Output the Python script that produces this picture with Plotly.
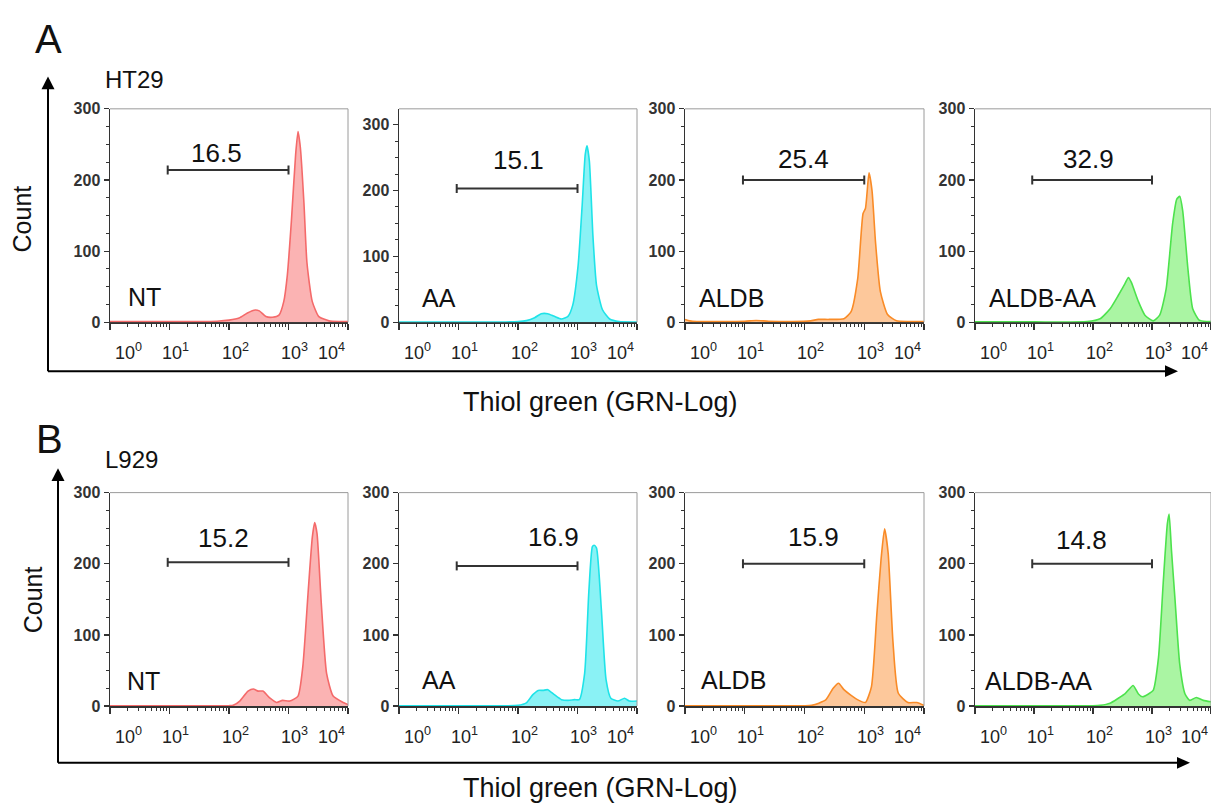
import math
import plotly.graph_objects as go

# ---------------- data (log10 fluorescence, cell count) ----------------
sample_names = ["NT", "AA", "ALDB", "ALDB-AA"]
row_titles = ["HT29", "L929"]
panel_letters = ["A", "B"]
x_tick_exponents = [0, 1, 2, 3, 4]
y_tick_values = [0, 100, 200, 300]

ht29_nt_x = [0, 0.5, 1.0, 1.5, 1.8, 2.0, 2.17, 2.31, 2.42, 2.51, 2.62, 2.73, 2.84, 2.92, 2.98, 3.05, 3.12, 3.16, 3.20, 3.26, 3.31, 3.40, 3.51, 3.68, 3.85, 4.0]
ht29_nt_y = [1, 1, 1, 1, 1.5, 3, 6, 13, 17, 16, 8, 7, 10, 29, 66, 144, 236, 268, 245, 167, 84, 29, 8, 2, 1, 1]

ht29_aa_x = [0, 1.0, 1.8, 2.0, 2.14, 2.28, 2.39, 2.50, 2.61, 2.73, 2.84, 2.92, 3.01, 3.08, 3.13, 3.16, 3.20, 3.26, 3.32, 3.42, 3.54, 3.70, 4.0]
ht29_aa_y = [0.5, 0.5, 0.5, 1, 2.5, 7, 13, 13, 9, 5, 9, 26, 86, 180, 255, 268, 244, 130, 56, 19, 5, 1, 0.5]

ht29_aldb_x = [0, 0.08, 0.2, 0.6, 1.0, 1.19, 1.4, 1.8, 2.1, 2.23, 2.41, 2.66, 2.78, 2.89, 2.98, 3.02, 3.08, 3.13, 3.19, 3.27, 3.39, 3.54, 3.75, 4.0]
ht29_aldb_y = [4, 2, 1, 1, 1.5, 2.5, 1.5, 1, 2, 4, 4, 5, 15, 61, 153, 160, 210, 185, 111, 43, 11, 2, 1, 1]

ht29_aldbaa_x = [0, 1.0, 1.9, 2.12, 2.29, 2.43, 2.54, 2.60, 2.65, 2.77, 2.88, 3.02, 3.13, 3.24, 3.35, 3.42, 3.47, 3.52, 3.61, 3.69, 3.80, 3.92, 4.0]
ht29_aldbaa_y = [0.5, 0.5, 1, 5, 19, 38, 54, 63, 56, 29, 10, 2, 10, 47, 139, 173, 177, 157, 74, 19, 3, 1, 1]

l929_nt_x = [0, 1.0, 2.0, 2.07, 2.18, 2.32, 2.41, 2.49, 2.57, 2.69, 2.80, 2.90, 3.02, 3.16, 3.24, 3.33, 3.40, 3.44, 3.48, 3.55, 3.64, 3.75, 3.92, 4.0]
l929_nt_y = [0.5, 0.5, 0.5, 1, 7, 21, 24, 21, 21, 11, 5, 8, 7, 14, 55, 160, 237, 258, 242, 146, 46, 14, 5, 2]

l929_aa_x = [0, 1.0, 2.0, 2.14, 2.25, 2.34, 2.42, 2.50, 2.61, 2.73, 2.84, 2.95, 3.03, 3.12, 3.19, 3.25, 3.28, 3.32, 3.40, 3.48, 3.56, 3.68, 3.79, 3.87, 4.0]
l929_aa_y = [0.5, 0.5, 1, 4.5, 16, 22, 22, 23, 16, 9, 8, 9, 9, 46, 160, 224, 226, 222, 137, 37, 11, 7, 11, 7, 7]

l929_aldb_x = [0, 1.0, 2.0, 2.12, 2.24, 2.36, 2.48, 2.57, 2.66, 2.78, 2.91, 3.02, 3.12, 3.21, 3.28, 3.34, 3.40, 3.48, 3.57, 3.73, 3.88, 4.0]
l929_aldb_y = [0.5, 0.5, 0.5, 1, 4, 9, 25, 32, 23, 15, 8, 5, 27, 128, 205, 249, 215, 91, 18, 5, 5, 1]

l929_aldbaa_x = [0, 1.0, 2.0, 2.12, 2.29, 2.43, 2.54, 2.68, 2.77, 2.84, 2.94, 3.02, 3.11, 3.19, 3.26, 3.29, 3.33, 3.39, 3.47, 3.56, 3.64, 3.75, 3.87, 4.0]
l929_aldbaa_y = [0.5, 0.5, 0.5, 1, 4, 11, 17, 29, 17, 13, 17, 22, 68, 173, 256, 270, 219, 150, 59, 17, 8, 12, 8, 6]

# gate percentages and gate (bracket) heights
ht29_gate_pct = ["16.5", "15.1", "25.4", "32.9"]
l929_gate_pct = ["15.2", "16.9", "15.9", "14.8"]
ht29_gate_level = [214, 203, 200, 200]
l929_gate_level = [202, 197, 200, 200]
gate_start = 0.97
gate_end = 3.0

# ---------------- styling / layout ----------------
W, H = 1211, 811
def px(x):
    return x / W
def py(y):
    return 1 - y / H

line_colors = ["#f46a6a", "#1fe3e8", "#f98b27", "#4de24d"]
fill_colors = ["#fbb3b3", "#8af2f5", "#fdc89b", "#aaf5a3"]

col_px = [(110, 348), (399, 637), (685, 924), (975, 1211)]
row_px = [(103, 321), (495, 713)]
y_max = [[300, 324, 300, 300], [300, 300, 300, 300]]

# percent label positions (log x, count)
ht29_label_pos = [(1.79, 238), (2.0, 247), (1.98, 229), (1.93, 229)]
l929_label_pos = [(1.9, 236), (2.59, 237), (2.15, 238), (1.8, 233)]
name_px = [[(126, 295), (420, 296), (697, 296), (987, 296)],
           [(125, 687), (420, 686), (699, 686), (983, 687)]]

data = [
    [(ht29_nt_x, ht29_nt_y), (ht29_aa_x, ht29_aa_y), (ht29_aldb_x, ht29_aldb_y), (ht29_aldbaa_x, ht29_aldbaa_y)],
    [(l929_nt_x, l929_nt_y), (l929_aa_x, l929_aa_y), (l929_aldb_x, l929_aldb_y), (l929_aldbaa_x, l929_aldbaa_y)],
]
gate_pct = [ht29_gate_pct, l929_gate_pct]
gate_level = [ht29_gate_level, l929_gate_level]
label_pos = [ht29_label_pos, l929_label_pos]

minor_x = [d + math.log10(k) for d in range(4) for k in range(2, 10)]

FONT = "Arial, Liberation Sans, Helvetica, sans-serif"
AX = "#333333"

fig = go.Figure()
layout = dict(
    width=W, height=H, autosize=False,
    margin=dict(l=0, r=0, t=0, b=0),
    paper_bgcolor="white", plot_bgcolor="white",
    showlegend=False,
    font=dict(family=FONT, color="#111"),
)
shapes = []
annotations = []

idx = 0
for r in range(2):
    top, bot = row_px[r]
    for c in range(4):
        idx += 1
        xa = "x" if idx == 1 else f"x{idx}"
        ya = "y" if idx == 1 else f"y{idx}"
        xkey = "xaxis" if idx == 1 else f"xaxis{idx}"
        ykey = "yaxis" if idx == 1 else f"yaxis{idx}"
        l, rr = col_px[c]
        layout[xkey] = dict(
            domain=[px(l), min(px(rr), 1.0)], range=[0, 4], anchor=ya,
            showline=True, linecolor=AX, linewidth=1.5,
            ticks="outside", tickmode="array", tickvals=x_tick_exponents,
            ticklen=6, tickwidth=1.2, tickcolor=AX,
            showticklabels=False, showgrid=False, zeroline=False,
            minor=dict(tickmode="array", tickvals=minor_x, ticks="outside",
                       ticklen=3, tickwidth=1, tickcolor=AX, showgrid=False),
            layer="below traces", fixedrange=True,
        )
        layout[ykey] = dict(
            domain=[py(bot), py(top)], range=[0, y_max[r][c]], anchor=xa,
            showline=True, linecolor=AX, linewidth=1.5,
            ticks="outside", tickmode="array", tickvals=y_tick_values,
            ticklen=5, tickwidth=1.2, tickcolor=AX,
            tickfont=dict(family=FONT, size=16, color="#333", weight="bold"),
            showgrid=False, zeroline=False,
            minor=dict(dtick=25, tick0=0, ticks="outside", ticklen=3,
                       tickwidth=1, tickcolor=AX, showgrid=False),
            layer="below traces", fixedrange=True,
        )
        # frame top / right
        shapes.append(dict(type="line", xref=f"{xa} domain", yref=f"{ya} domain",
                           x0=0, x1=1, y0=1, y1=1, line=dict(color="#9a9a9a", width=1)))
        shapes.append(dict(type="line", xref=f"{xa} domain", yref=f"{ya} domain",
                           x0=1, x1=1, y0=0, y1=1, line=dict(color="#9a9a9a", width=1)))

        xs, ys = data[r][c]
        fig.add_trace(go.Scatter(
            x=xs, y=ys, xaxis=xa, yaxis=ya, mode="lines",
            line=dict(color=line_colors[c], width=1.6, shape="spline", smoothing=0.55),
            fill="tozeroy", fillcolor=fill_colors[c], hoverinfo="skip",
        ))

        # gate bracket
        g = gate_level[r][c]
        shapes.append(dict(type="line", xref=xa, yref=ya, x0=gate_start, x1=gate_end,
                           y0=g, y1=g, line=dict(color="#333", width=2)))
        for gx in (gate_start, gate_end):
            shapes.append(dict(type="line", xref=xa, yref=ya, xsizemode="scaled",
                               ysizemode="pixel", yanchor=g, x0=gx, x1=gx, y0=-4.5, y1=4.5,
                               line=dict(color="#333", width=2)))
        lx, ly = label_pos[r][c]
        annotations.append(dict(text=gate_pct[r][c], xref=xa, yref=ya, x=lx, y=ly,
                                showarrow=False, xanchor="center", yanchor="middle",
                                font=dict(family=FONT, size=26, color="#111")))
        # sample name
        nx, ny = name_px[r][c]
        annotations.append(dict(text=sample_names[c], xref="paper", yref="paper",
                                x=px(nx), y=py(ny), showarrow=False,
                                xanchor="left", yanchor="middle",
                                font=dict(family=FONT, size=25, color="#111")))
        # x tick labels 10^n
        for n in x_tick_exponents:
            if n == 0:
                xanchor, xshift = "left", 3
            elif n == 4:
                xanchor, xshift = "right", -1
            else:
                xanchor, xshift = "center", 6
            annotations.append(dict(text=f"10<sup>{n}</sup>", xref=xa, yref="paper",
                                    x=n, y=py(bot + 30), xshift=xshift,
                                    showarrow=False, xanchor=xanchor, yanchor="middle",
                                    font=dict(family=FONT, size=18, color="#222")))

# big axis arrows, row labels, titles
arrow_geo = [
    dict(vx=48, vtop=70, base=371, htip=1178, letter_xy=(48, 32), row_xy=(103, 73), count_xy=(22, 216), title_y=402),
    dict(vx=58, vtop=470, base=771, htip=1190, letter_xy=(49, 440), row_xy=(103, 461), count_xy=(33, 605), title_y=797),
]
for r, gg in enumerate(arrow_geo):
    vx, vtop, base, htip = gg["vx"], gg["vtop"], gg["base"], gg["htip"]
    shapes.append(dict(type="line", xref="paper", yref="paper",
                       x0=px(vx), x1=px(vx), y0=py(base), y1=py(vtop + 8),
                       line=dict(color="black", width=2)))
    shapes.append(dict(type="line", xref="paper", yref="paper",
                       x0=px(vx), x1=px(htip - 8), y0=py(base), y1=py(base),
                       line=dict(color="black", width=2)))
    shapes.append(dict(type="path", xref="paper", yref="paper",
                       path=f"M {px(vx)} {py(vtop)} L {px(vx - 6.5)} {py(vtop + 13)} L {px(vx + 6.5)} {py(vtop + 13)} Z",
                       fillcolor="black", line=dict(color="black", width=0)))
    shapes.append(dict(type="path", xref="paper", yref="paper",
                       path=f"M {px(htip)} {py(base)} L {px(htip - 13)} {py(base - 6)} L {px(htip - 13)} {py(base + 6)} Z",
                       fillcolor="black", line=dict(color="black", width=0)))
    lx, ly = gg["letter_xy"]
    annotations.append(dict(text=panel_letters[r], xref="paper", yref="paper", x=px(lx), y=py(ly),
                            showarrow=False, xanchor="center", yanchor="middle",
                            font=dict(family=FONT, size=40, color="#111")))
    rx, ry = gg["row_xy"]
    annotations.append(dict(text=row_titles[r], xref="paper", yref="paper", x=px(rx), y=py(ry),
                            showarrow=False, xanchor="left", yanchor="middle",
                            font=dict(family=FONT, size=24, color="#111")))
    cx, cy = gg["count_xy"]
    annotations.append(dict(text="Count", xref="paper", yref="paper", x=px(cx), y=py(cy),
                            showarrow=False, xanchor="center", yanchor="middle", textangle=-90,
                            font=dict(family=FONT, size=25, color="#111")))
    annotations.append(dict(text="Thiol green (GRN-Log)", xref="paper", yref="paper",
                            x=px(600), y=py(gg["title_y"]),
                            showarrow=False, xanchor="center", yanchor="middle",
                            font=dict(family=FONT, size=27, color="#111")))

layout["shapes"] = shapes
layout["annotations"] = annotations
fig.update_layout(**layout)
fig.write_html(
    "out.html",
    config={"displayModeBar": False, "staticPlot": True},
    post_script="document.body.style.margin='0';document.body.style.overflow='hidden';",
)
